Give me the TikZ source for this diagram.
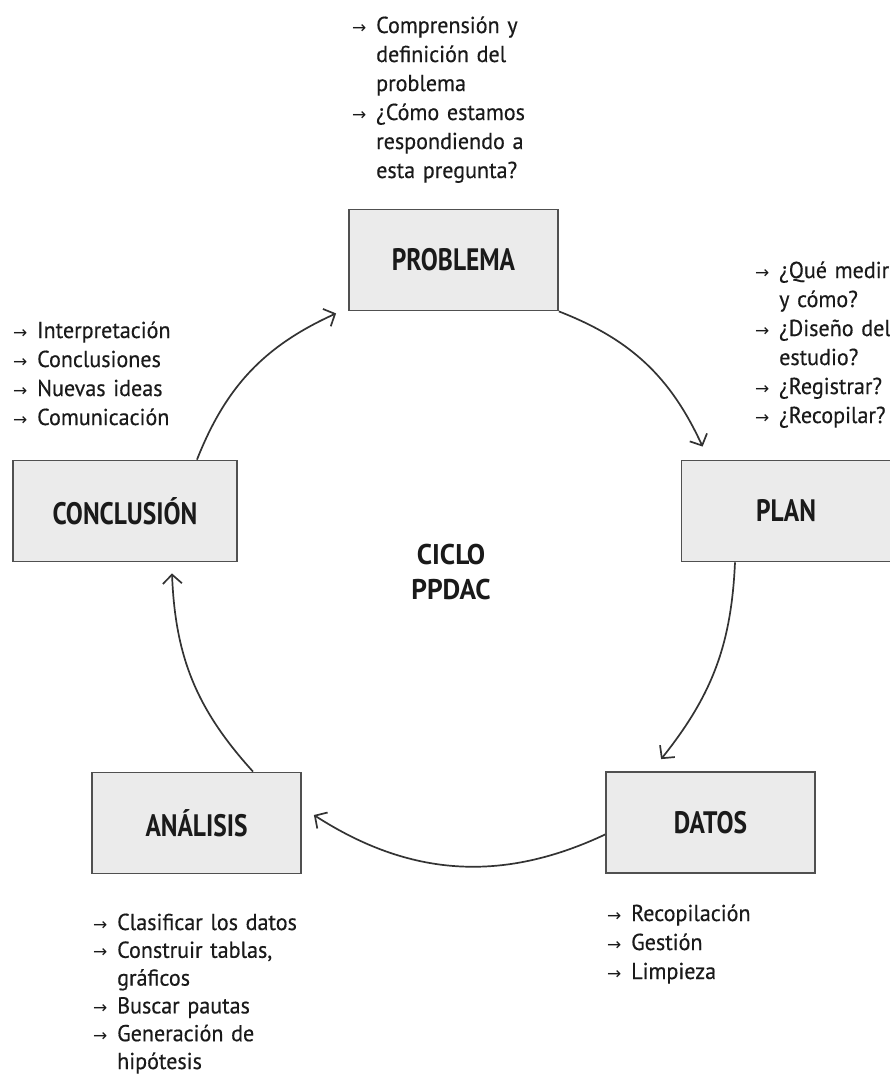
\documentclass[tikz,border=0pt]{standalone}
\usepackage{fontspec}
\setmainfont{PT Sans}[FakeStretch=0.96, UprightFeatures={FakeBold=0.4}]
\newfontfamily\boxfont{PT Sans}[FakeStretch=0.82]
\newfontfamily\arrowfont{DejaVu Sans}
\usetikzlibrary{arrows.meta}

\definecolor{boxfill}{HTML}{EBEBEB}
\definecolor{boxline}{HTML}{505050}
\definecolor{arrowcol}{HTML}{333333}
\definecolor{textcol}{HTML}{1A1A1A}

\newcommand{\flecha}{\makebox[24pt][l]{\arrowfont\fontsize{17}{17}\selectfont →}}
\newcommand{\sangria}{\hspace*{24pt}}

\begin{document}
\begin{tikzpicture}[x=1pt, y=-1pt,
    stagebox/.style={
        rectangle,
        minimum width=209pt, minimum height=101pt,
        draw=boxline,
        line width=1.8pt,
        fill=boxfill,
        text=textcol,
        font=\boxfont\fontsize{31}{31}\selectfont\bfseries
    },
    notes/.style={
        anchor=base west,
        inner sep=0pt,
        text width=260pt,
        align=left,
        text=textcol,
        font=\fontsize{23}{29}\selectfont
    },
    cycarrow/.style={line width=1.7pt, draw=arrowcol, -{Straight Barb[length=9pt,width=19pt]}}
]
\useasboundingbox (0,0) rectangle (890,1077);

\node[stagebox] (problema)   at (453.5,260)  {PROBLEMA};
\node[stagebox] (plan)       at (786,511)    {PLAN};
\node[stagebox] (datos)      at (710.5,822.5) {DATOS};
\node[stagebox] (analisis)   at (196.5,823)  {ANÁLISIS};
\node[stagebox, minimum width=224pt] (conclusion) at (125,511) {CONCLUSIÓN};

\node[align=center, text=textcol, font=\fontsize{28.5}{35}\selectfont\bfseries]
    (ciclo) at (451,572) {CICLO\\PPDAC};

% notas de cada etapa
\node[notes] (notasproblema) at (352,33)
    {\flecha Comprensión y\\\sangria definición del\\\sangria problema\\\flecha ¿Cómo estamos\\\sangria respondiendo a\\\sangria esta pregunta?};
\node[notes] (notasplan) at (755,278)
    {\flecha ¿Qué medir\\\sangria y cómo?\\\flecha ¿Diseño del\\\sangria estudio?\\\flecha ¿Registrar?\\\flecha ¿Recopilar?};
\node[notes] (notasdatos) at (607,921)
    {\flecha Recopilación\\\flecha Gestión\\\flecha Limpieza};
\node[notes, font=\fontsize{23}{27.8}\selectfont] (notasanalisis) at (93,930)
    {\flecha Clasificar los datos\\\flecha Construir tablas,\\\sangria gráficos\\\flecha Buscar pautas\\\flecha Generación de\\\sangria hipótesis};
\node[notes] (notasconclusion) at (13,338)
    {\flecha Interpretación\\\flecha Conclusiones\\\flecha Nuevas ideas\\\flecha Comunicación};

% ciclo
\draw[cycarrow] (problema.south east) to[bend left=22] ([shift={(22,-13)}]plan.north west);
\draw[cycarrow] ([xshift=-51]plan.south) to[bend left=18] ([shift={(56,-12)}]datos.north west);
\draw[cycarrow] ([yshift=-12]datos.west) to[bend left=29] ([shift={(12,-8)}]analisis.east);
\draw[cycarrow] ([xshift=56.5]analisis.north) to[bend left=20] ([shift={(47,11)}]conclusion.south);
\draw[cycarrow] ([xshift=72]conclusion.north) to[bend left=22] ([shift={(-12,2)}]problema.south west);

\end{tikzpicture}
\end{document}
